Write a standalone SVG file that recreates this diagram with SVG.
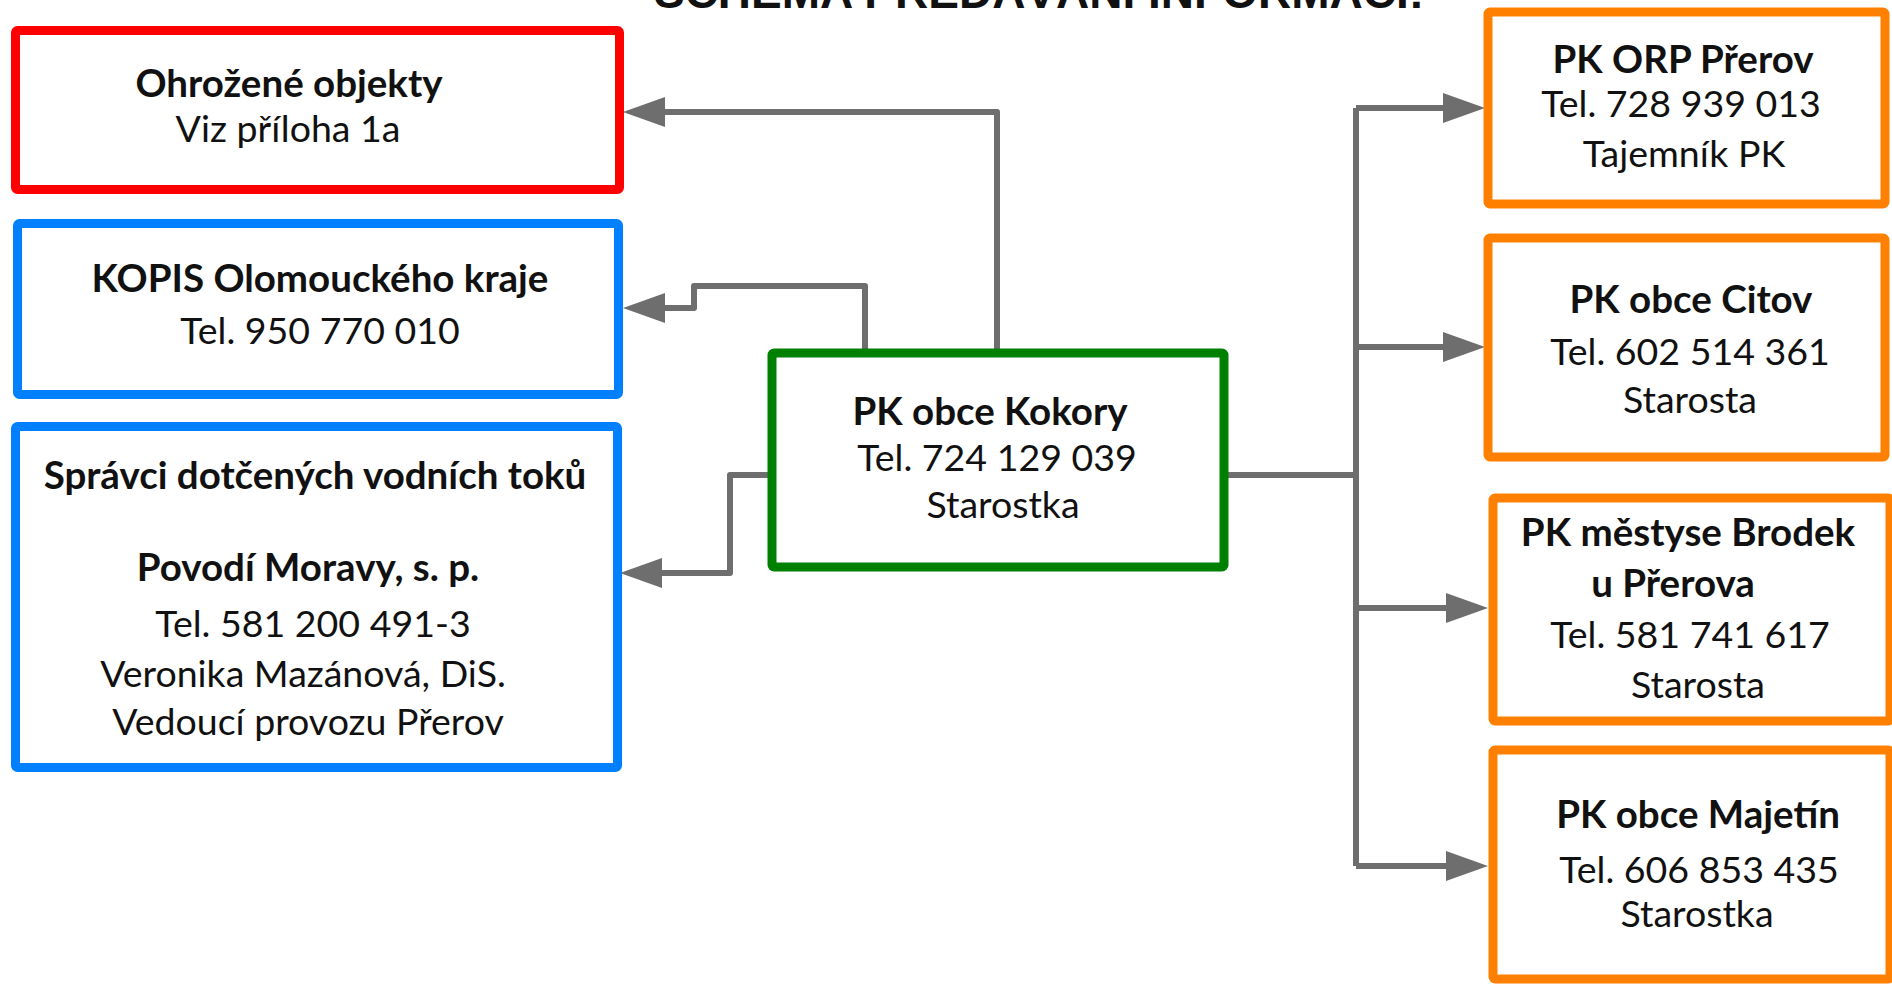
<svg xmlns="http://www.w3.org/2000/svg" width="1892" height="984" viewBox="0 0 1892 984">
<defs>
<marker id="arr" markerUnits="userSpaceOnUse" markerWidth="42" markerHeight="30" refX="0" refY="15" orient="auto">
<path d="M0,0 L42,15 L0,30 z" fill="#6e6e6e"/>
</marker>
<style>
.box{fill:#fff;stroke-width:9;stroke-linejoin:round}
.red{stroke:#ff0000}.blue{stroke:#0080ff}.green{stroke:#008000}.orange{stroke:#ff8000}
text{font-family:Lato,"Open Sans","Liberation Sans",sans-serif;font-size:37.5px;fill:#111;text-anchor:middle}
.b{font-weight:bold;font-size:38.5px}
.title{font-family:"Liberation Sans",Arial,sans-serif;font-weight:bold;font-size:46px}
.con{fill:none;stroke:#6e6e6e;stroke-width:6;stroke-linejoin:round}
.arr{marker-end:url(#arr)}
</style>
</defs>
<rect width="1892" height="984" fill="#fff"/>
<text class="title" x="1039" y="8">SCHÉMA PŘEDÁVÁNÍ INFORMACÍ:</text>
<g id="connectors">
<path class="con arr" d="M997,353 V112 H665"/>
<path class="con arr" d="M865,353 V286 H694 V308 H665"/>
<path class="con arr" d="M772,475 H730 V573 H662"/>
<path class="con" d="M1224,475 H1356"/>
<path class="con" d="M1356,108 V866"/>
<path class="con arr" d="M1356,108 H1443"/>
<path class="con arr" d="M1356,347 H1443"/>
<path class="con arr" d="M1356,608 H1446"/>
<path class="con arr" d="M1356,866 H1446"/>
</g>
<g id="ohrozene">
<rect class="box red" x="15.5" y="30.5" width="604" height="159" rx="2"/>
<text class="b" x="289" y="97">Ohrožené objekty</text>
<text x="288" y="142">Viz příloha 1a</text>
</g>
<g id="kopis">
<rect class="box blue" x="17.5" y="223.5" width="601" height="171" rx="2"/>
<text class="b" x="320" y="292">KOPIS Olomouckého kraje</text>
<text x="320" y="344">Tel. 950 770 010</text>
</g>
<g id="spravci">
<rect class="box blue" x="15.5" y="426.5" width="602" height="341" rx="2"/>
<text class="b" x="315" y="489">Správci dotčených vodních toků</text>
<text class="b" x="308" y="581">Povodí Moravy, s. p.</text>
<text x="313" y="637">Tel. 581 200 491-3</text>
<text x="303" y="687">Veronika Mazánová, DiS.</text>
<text x="308" y="735">Vedoucí provozu Přerov</text>
</g>
<g id="kokory">
<rect class="box green" x="772" y="353" width="452" height="214" rx="2"/>
<text class="b" x="990" y="425">PK obce Kokory</text>
<text x="997" y="471">Tel. 724 129 039</text>
<text x="1003" y="518">Starostka</text>
</g>
<g id="orp">
<rect class="box orange" x="1488" y="12" width="397" height="192" rx="2"/>
<text class="b" x="1683" y="73">PK ORP Přerov</text>
<text x="1681" y="117">Tel. 728 939 013</text>
<text x="1684" y="167">Tajemník PK</text>
</g>
<g id="citov">
<rect class="box orange" x="1488" y="238" width="397" height="219" rx="2"/>
<text class="b" x="1691" y="313">PK obce Citov</text>
<text x="1690" y="365">Tel. 602 514 361</text>
<text x="1690" y="413">Starosta</text>
</g>
<g id="brodek">
<rect class="box orange" x="1493" y="498" width="397" height="223" rx="2"/>
<text class="b" x="1688" y="546">PK městyse Brodek</text>
<text class="b" x="1673" y="597">u Přerova</text>
<text x="1690" y="648">Tel. 581 741 617</text>
<text x="1698" y="698">Starosta</text>
</g>
<g id="majetin">
<rect class="box orange" x="1493" y="750" width="397" height="229" rx="2"/>
<text class="b" x="1698" y="828">PK obce Majetín</text>
<text x="1699" y="883">Tel. 606 853 435</text>
<text x="1697" y="927">Starostka</text>
</g>
</svg>
